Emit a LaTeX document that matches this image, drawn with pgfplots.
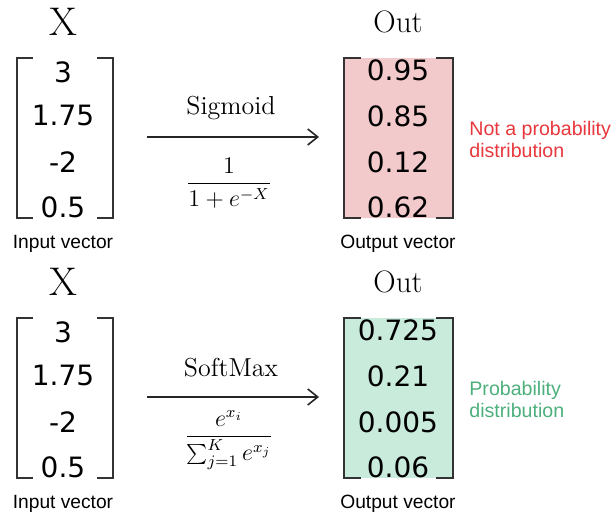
\documentclass[border=0pt]{standalone}
\usepackage{fontspec}
\usepackage{pgfplots}
\pgfplotsset{compat=1.18}
\usetikzlibrary{arrows.meta}
\newfontfamily\dv{DejaVu Sans}
\newfontfamily\ls{Liberation Sans}
\definecolor{pinkfill}{HTML}{F2CACB}
\definecolor{greenfill}{HTML}{C9EBDC}
\definecolor{redtxt}{HTML}{E8383D}
\definecolor{greentxt}{HTML}{4DB07C}
\definecolor{brk}{HTML}{333333}
\begin{document}
\begin{tikzpicture}[every node/.append style={inner sep=0pt}]
\begin{axis}[
  width=306pt, height=259.5pt, scale only axis,
  xmin=0, xmax=612, ymin=0, ymax=519, y dir=reverse,
  hide axis, clip=false,
]
% background (sets the bounding box)
\addplot[draw=none, fill=white] coordinates {(0,0)(612,0)(612,519)(0,519)} -- cycle;

% ===== output boxes =====
\addplot[draw=none, fill=pinkfill] coordinates {(344,58)(453,58)(453,218)(344,218)} -- cycle;
\addplot[draw=none, fill=greenfill] coordinates {(344,318)(453,318)(453,478)(344,478)} -- cycle;

% ===== brackets =====
\pgfplotsset{brstyle/.style={brk, line width=0.85pt, no markers}}
% top input
\addplot[brstyle] coordinates {(33,58)(17,58)(17,218)(33,218)};
\addplot[brstyle] coordinates {(97,58)(113,58)(113,218)(97,218)};
% top output
\addplot[brstyle] coordinates {(361,58)(344,58)(344,218)(361,218)};
\addplot[brstyle] coordinates {(436,58)(453,58)(453,218)(436,218)};
% bottom input
\addplot[brstyle] coordinates {(33,318)(17,318)(17,478)(33,478)};
\addplot[brstyle] coordinates {(97,318)(113,318)(113,478)(97,478)};
% bottom output
\addplot[brstyle] coordinates {(361,318)(344,318)(344,478)(361,478)};
\addplot[brstyle] coordinates {(436,318)(453,318)(453,478)(436,478)};

% ===== arrows =====
\addplot[black!85, line width=0.8pt, no markers, -{Straight Barb[length=5pt,width=8pt,line width=0.8pt]}] coordinates {(147,137)(319,137)};
\addplot[black!85, line width=0.8pt, no markers, -{Straight Barb[length=5pt,width=8pt,line width=0.8pt]}] coordinates {(147,397)(319,397)};

% ===== texts: top =====
\node[font=\fontsize{20}{22}\selectfont] at (axis cs:63,22) {X};
\node[font=\fontsize{15.5}{18}\selectfont] at (axis cs:398,22) {Out};
\node[font=\dv\fontsize{14}{16}\selectfont] at (axis cs:63,72) {3};
\node[font=\dv\fontsize{14}{16}\selectfont] at (axis cs:63,115) {1.75};
\node[font=\dv\fontsize{14}{16}\selectfont] at (axis cs:63,162) {-2};
\node[font=\dv\fontsize{14}{16}\selectfont] at (axis cs:63,207) {0.5};
\node[font=\dv\fontsize{14}{16}\selectfont] at (axis cs:398,70) {0.95};
\node[font=\dv\fontsize{14}{16}\selectfont] at (axis cs:398,116) {0.85};
\node[font=\dv\fontsize{14}{16}\selectfont] at (axis cs:398,162) {0.12};
\node[font=\dv\fontsize{14}{16}\selectfont] at (axis cs:398,207) {0.62};
\node[font=\ls\fontsize{9.6}{11}\selectfont] at (axis cs:63,244) {Input vector};
\node[font=\ls\fontsize{9.6}{11}\selectfont] at (axis cs:398,244) {Output vector};
\node[font=\fontsize{13}{15}\selectfont] at (axis cs:231,108) {Sigmoid};
\node[font=\fontsize{11.5}{13}\selectfont] at (axis cs:229,183) {$\displaystyle\frac{1}{1+e^{-X}}$};
\node[font=\ls\fontsize{9.8}{11}\selectfont, text=redtxt, anchor=west, align=left] at (axis cs:469,139) {Not a probability\\distribution};

% ===== texts: bottom =====
\node[font=\fontsize{20}{22}\selectfont] at (axis cs:63,282) {X};
\node[font=\fontsize{15.5}{18}\selectfont] at (axis cs:398,282) {Out};
\node[font=\dv\fontsize{14}{16}\selectfont] at (axis cs:63,332) {3};
\node[font=\dv\fontsize{14}{16}\selectfont] at (axis cs:63,375) {1.75};
\node[font=\dv\fontsize{14}{16}\selectfont] at (axis cs:63,422) {-2};
\node[font=\dv\fontsize{14}{16}\selectfont] at (axis cs:63,467) {0.5};
\node[font=\dv\fontsize{14}{16}\selectfont] at (axis cs:398,330) {0.725};
\node[font=\dv\fontsize{14}{16}\selectfont] at (axis cs:398,376) {0.21};
\node[font=\dv\fontsize{14}{16}\selectfont] at (axis cs:398,422) {0.005};
\node[font=\dv\fontsize{14}{16}\selectfont] at (axis cs:398,467) {0.06};
\node[font=\ls\fontsize{9.6}{11}\selectfont] at (axis cs:63,504) {Input vector};
\node[font=\ls\fontsize{9.6}{11}\selectfont] at (axis cs:398,504) {Output vector};
\node[font=\fontsize{13}{15}\selectfont] at (axis cs:231,368) {SoftMax};
\node[font=\fontsize{11.5}{13}\selectfont] at (axis cs:229,440) {$\displaystyle\frac{e^{x_i}}{\sum_{j=1}^{K} e^{x_j}}$};
\node[font=\ls\fontsize{9.8}{11}\selectfont, text=greentxt, anchor=west, align=left] at (axis cs:469,399) {Probability\\distribution};
\end{axis}
\end{tikzpicture}
\end{document}
